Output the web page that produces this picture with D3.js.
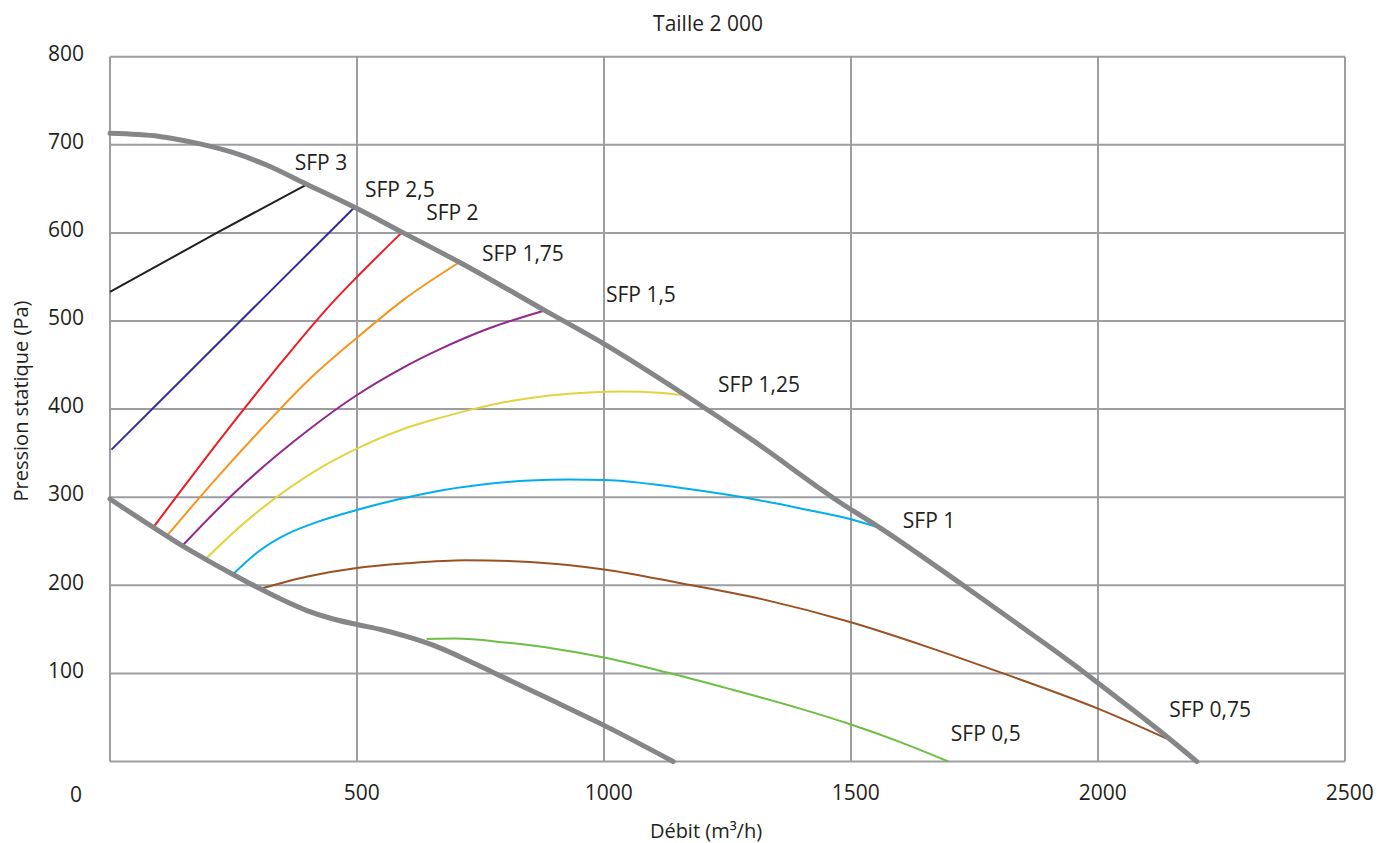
<!DOCTYPE html>
<html>
<head>
<meta charset="utf-8">
<script src="https://cdn.jsdelivr.net/npm/d3@7"></script>
<style>
  body { margin: 0; background: #fff; }
  text { font-family: "Open Sans", sans-serif; fill: #231f20; }
</style>
</head>
<body>
<div id="root"></div>
<script>
// Data: [débit m3/h, pression Pa]
const maxCurve = [[0,713],[100,709.5],[182,701],[250,691],[317,677],[395,656],[495,629],[594,600],[713,565],[880,512],[1000,474],[1164,416],[1300,365],[1478,294],[1565,263],[1727,200],[1850,151],[1970,102],[2000,89],[2142,27],[2200,0]];
const minCurve = [[0,298],[87,266],[146,245],[192,230],[250,212],[304,196],[351,183],[400,171],[450,162],[504,155],[550,149.5],[600,142],[654,132],[708,119],[780,100],[900,68],[1000,41],[1140,0]];

const sfp3 = [[0,533],[216,600],[395,654]];
const sfp25 = [[3,354],[307,524],[493,628]];
const sfp2 = [[88,266],[236,375],[350,455],[452,522],[500,550],[590,600]];
const sfp175 = [[115,256],[210,318],[304,376],[400,432],[500,481],[594,524],[708,567]];
const sfp15 = [[145,244],[250,304],[401,376],[500,416],[590,446],[668,468],[769,492],[880,512]];
const sfp125 = [[192,229],[270,270],[347,304],[425,333],[503,356],[597,378],[668,390],[735,400],[800,408],[870,414],[960,418.5],[1040,420],[1110,418.5],[1157,416]];
const sfp1 = [[248,212],[300,238],[358,258],[420,272],[503,286],[580,297],[654,306],[750,314],[850,319],[930,320],[1000,319.5],[1150,311],[1269,301],[1400,287],[1500,275],[1565,264]];
const sfp075 = [[304,196],[400,210],[503,220],[600,225],[720,228.5],[850,226.5],[1000,218],[1150,203],[1322,184],[1500,158],[1650,131],[1808,100],[2000,60],[2139,26]];
const sfp05 = [[641,139],[700,139.5],[800,135],[900,128],[1000,118],[1128,101],[1250,83],[1397,60],[1500,42],[1600,22],[1697,0]];

const sfpNames = ["SFP 3", "SFP 2,5", "SFP 2", "SFP 1,75", "SFP 1,5", "SFP 1,25", "SFP 1", "SFP 0,75", "SFP 0,5"];
const sfpSeries = [sfp3, sfp25, sfp2, sfp175, sfp15, sfp125, sfp1, sfp075, sfp05];
// where each label sits, in chart units
const sfpLabelAt = [[374,671],[516,641],[640,615],[753,568],[1004,521],[1231,419],[1605,265],[2144,50],[1702,23]];
const sfpColors = ["#231f20", "#2e3192", "#ed1c24", "#f7941d", "#92278f", "#e2d33f", "#00aeef", "#9a5224", "#6cbe45"];

const xTicks = [500, 1000, 1500, 2000, 2500];
const yTicks = [100, 200, 300, 400, 500, 600, 700, 800];
const xGrid = [0, 500, 1000, 1500, 2000, 2500];
const yGrid = [0, 100, 200, 300, 400, 500, 600, 700, 800];

const width = 1387;
const height = 843;

const svg = d3.select("#root")
  .append("svg")
  .attr("width", width)
  .attr("height", height);

const x = d3.scaleLinear().domain([0, 2500]).range([110, 1345]);
const y = d3.scaleLinear().domain([0, 800]).range([761.5, 56.7]);

// Grid
const grid = svg.append("g").attr("stroke", "#9d9ea1").attr("stroke-width", 2);
grid.selectAll(".vgrid")
  .data(xGrid)
  .enter()
  .append("line")
  .attr("x1", (d) => x(d))
  .attr("x2", (d) => x(d))
  .attr("y1", y(800))
  .attr("y2", y(0));
grid.selectAll(".hgrid")
  .data(yGrid)
  .enter()
  .append("line")
  .attr("x1", x(0))
  .attr("x2", x(2500))
  .attr("y1", (d) => y(d))
  .attr("y2", (d) => y(d));

// Axes (labels only)
const yAxis = svg.append("g")
  .attr("transform", `translate(${x(0)},-3)`)
  .call(d3.axisLeft(y).tickValues(yTicks).tickSize(0).tickPadding(26));
const xAxis = svg.append("g")
  .attr("transform", `translate(0,${y(0)})`)
  .call(d3.axisBottom(x).tickValues(xTicks).tickFormat(d3.format("d")).tickSize(0).tickPadding(24));
[yAxis, xAxis].forEach((ax) => {
  ax.select(".domain").remove();
  ax.selectAll("text")
    .attr("fill", "#231f20")
    .style("font-family", '"Open Sans", sans-serif')
    .style("font-size", "21px");
});
xAxis.selectAll("text").attr("dx", "0.2em");

svg.append("text")
  .attr("x", x(0) - 34)
  .attr("y", y(0) + 40)
  .attr("text-anchor", "middle")
  .style("font-size", "21px")
  .text("0");

// Curves
const line = d3.line()
  .x((d) => x(d[0]))
  .y((d) => y(d[1]))
  .curve(d3.curveMonotoneX);

svg.selectAll(".sfp")
  .data(sfpSeries)
  .enter()
  .append("path")
  .attr("class", "sfp")
  .attr("d", line)
  .attr("fill", "none")
  .attr("stroke", (d, i) => sfpColors[i])
  .attr("stroke-width", 2);

svg.selectAll(".limit")
  .data([maxCurve, minCurve])
  .enter()
  .append("path")
  .attr("class", "limit")
  .attr("d", line)
  .attr("fill", "none")
  .attr("stroke", "#858688")
  .attr("stroke-width", 5)
  .attr("stroke-linecap", "round");

// SFP labels
svg.selectAll(".sfp-label")
  .data(sfpNames)
  .enter()
  .append("text")
  .attr("class", "sfp-label")
  .attr("x", (d, i) => x(sfpLabelAt[i][0]))
  .attr("y", (d, i) => y(sfpLabelAt[i][1]))
  .style("font-size", "21px")
  .text((d) => d);

// Titles
svg.append("text")
  .attr("x", 708)
  .attr("y", 31)
  .attr("text-anchor", "middle")
  .style("font-size", "21px")
  .text("Taille 2 000");

svg.append("text")
  .attr("x", 706)
  .attr("y", 838)
  .attr("text-anchor", "middle")
  .style("font-size", "20px")
  .text("Débit (m³/h)");

svg.append("text")
  .attr("transform", "translate(28,401) rotate(-90)")
  .attr("text-anchor", "middle")
  .style("font-size", "20px")
  .text("Pression statique (Pa)");
</script>
</body>
</html>
